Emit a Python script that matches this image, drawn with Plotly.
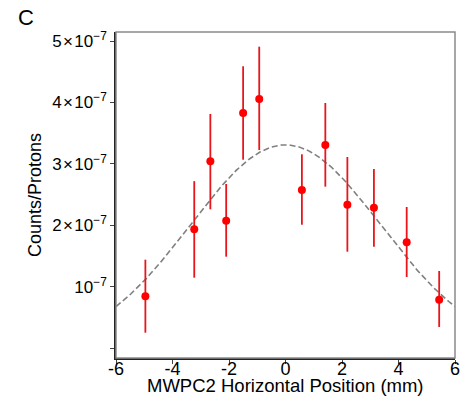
import numpy as np
import plotly.graph_objects as go

# Data
x_pos = [-4.96, -3.23, -2.66, -2.10, -1.50, -0.93, 0.58, 1.41, 2.19, 3.13, 4.29, 5.44]
counts = [0.846e-7, 1.937e-7, 3.043e-7, 2.077e-7, 3.829e-7, 4.057e-7,
          2.576e-7, 3.308e-7, 2.337e-7, 2.288e-7, 1.725e-7, 0.791e-7]
err_plus = [0.596e-7, 0.783e-7, 0.770e-7, 0.597e-7, 0.760e-7, 0.851e-7,
            0.581e-7, 0.684e-7, 0.776e-7, 0.630e-7, 0.574e-7, 0.467e-7]
err_minus = [0.592e-7, 0.788e-7, 0.781e-7, 0.586e-7, 0.760e-7, 0.830e-7,
             0.565e-7, 0.678e-7, 0.765e-7, 0.635e-7, 0.565e-7, 0.444e-7]

# Gaussian fit parameters (dashed curve)
fit_amp = 3.31e-7
fit_mu = 0.0
fit_sigma = 3.37

x_ticks = [-6, -4, -2, 0, 2, 4, 6]
y_ticks = [0, 1e-7, 2e-7, 3e-7, 4e-7, 5e-7]
y_ticklabels = ["", "10<sup>\u22127</sup>", "2\u200a\u00d7\u200a10<sup>\u22127</sup>",
                "3\u200a\u00d7\u200a10<sup>\u22127</sup>", "4\u200a\u00d7\u200a10<sup>\u22127</sup>",
                "5\u200a\u00d7\u200a10<sup>\u22127</sup>"]

xf = np.linspace(-6, 6, 300)
yf = fit_amp * np.exp(-(xf - fit_mu) ** 2 / (2 * fit_sigma ** 2))

FONT = "Liberation Sans, Arial, Helvetica, sans-serif"

fig = go.Figure()
fig.add_trace(go.Scatter(
    x=xf, y=yf, mode="lines",
    line=dict(color="#808080", width=1.6, dash="6px,3px"),
    hoverinfo="skip", showlegend=False,
))
fig.add_trace(go.Scatter(
    x=x_pos, y=counts, mode="markers",
    marker=dict(color="#ff0000", size=8),
    error_y=dict(type="data", symmetric=False, array=err_plus, arrayminus=err_minus,
                 color="#e8151b", thickness=1.8, width=0),
    showlegend=False,
))

fig.update_layout(
    width=461, height=405,
    margin=dict(l=116, r=6, t=32, b=47, autoexpand=False),
    paper_bgcolor="white", plot_bgcolor="white",
    font=dict(family=FONT, color="black"),
    shapes=[dict(type="rect", xref="paper", yref="paper", x0=0, x1=1, y0=0, y1=1,
                 line=dict(color="#8a8a8a", width=1.5), layer="above")],
    annotations=[
        dict(text="C", xref="paper", yref="paper", x=-0.265, y=1.043,
             xanchor="center", yanchor="middle", showarrow=False,
             font=dict(size=22, family=FONT)),
        dict(text="MWPC2 Horizontal Position (mm)", xref="paper", yref="paper",
             x=0.5, y=-0.083, xanchor="center", yanchor="middle", showarrow=False,
             font=dict(size=18.5, family=FONT)),
    ],
)
fig.update_xaxes(
    range=[-6, 6], tickvals=x_ticks, ticktext=[str(v) for v in x_ticks],
    ticks="outside", ticklen=4, tickcolor="#444", tickwidth=1, ticklabelstandoff=-10,
    showline=True, linecolor="#222", linewidth=1.5, showgrid=False, zeroline=False,
    tickfont=dict(size=18),
)
fig.update_yaxes(
    range=[-0.158e-7, 5.147e-7], tickvals=y_ticks, ticktext=y_ticklabels,
    ticks="outside", ticklen=4, tickcolor="#444", tickwidth=1,
    showline=True, linecolor="#222", linewidth=1.5, showgrid=False, zeroline=False,
    tickfont=dict(size=17), title=dict(text="Counts/Protons", font=dict(size=18), standoff=6),
)

fig.write_html("out.html", config={"displayModeBar": False},
               post_script="document.body.style.margin='0';document.body.style.overflow='hidden';")
